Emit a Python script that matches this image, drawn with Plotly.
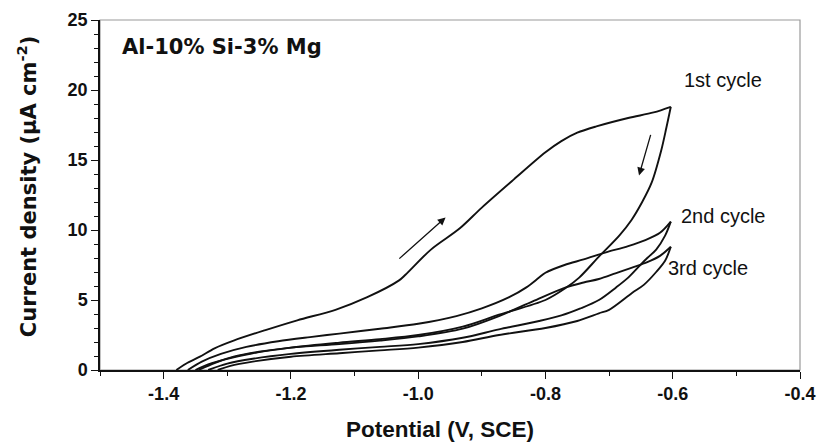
import plotly.graph_objects as go

# ---- data ----
c1_fwd_x = [-1.380, -1.365, -1.343, -1.32, -1.29, -1.24, -1.19, -1.13, -1.08, -1.03, -1.02, -0.98, -0.935, -0.90, -0.85, -0.80, -0.775, -0.75, -0.72, -0.67, -0.63, -0.603]
c1_fwd_y = [0.0, 0.45, 0.95, 1.55, 2.1, 2.85, 3.55, 4.3, 5.2, 6.4, 6.8, 8.6, 10.1, 11.6, 13.6, 15.55, 16.35, 16.95, 17.4, 18.0, 18.4, 18.8]

c1_rev_x = [-0.603, -0.610, -0.618, -0.633, -0.648, -0.665, -0.684, -0.716, -0.747, -0.770, -0.80, -0.873, -0.93, -1.00, -1.06, -1.124, -1.20, -1.26, -1.30, -1.33, -1.350]
c1_rev_y = [18.8, 17.3, 15.7, 13.4, 12.0, 10.7, 9.6, 8.1, 6.6, 5.8, 5.0, 3.95, 3.1, 2.5, 2.2, 1.95, 1.6, 1.2, 0.8, 0.4, 0.0]

c2_fwd_x = [-1.362, -1.34, -1.31, -1.27, -1.22, -1.17, -1.124, -1.06, -1.00, -0.94, -0.90, -0.857, -0.83, -0.81, -0.80, -0.77, -0.74, -0.705, -0.67, -0.642, -0.62, -0.603]
c2_fwd_y = [0.0, 0.6, 1.15, 1.65, 2.05, 2.35, 2.6, 2.95, 3.3, 3.85, 4.4, 5.2, 5.9, 6.6, 6.95, 7.5, 7.9, 8.4, 8.85, 9.3, 9.8, 10.6]

c2_rev_x = [-0.603, -0.612, -0.626, -0.640, -0.653, -0.670, -0.689, -0.716, -0.745, -0.775, -0.81, -0.873, -0.93, -1.00, -1.06, -1.124, -1.20, -1.26, -1.30, -1.33]
c2_rev_y = [10.6, 9.6, 8.6, 8.0, 7.4, 6.6, 5.9, 5.0, 4.4, 3.9, 3.5, 2.9, 2.3, 1.85, 1.65, 1.45, 1.15, 0.8, 0.45, 0.0]

c3_fwd_x = [-1.345, -1.32, -1.29, -1.25, -1.20, -1.124, -1.06, -1.00, -0.93, -0.873, -0.82, -0.768, -0.74, -0.716, -0.69, -0.665, -0.64, -0.62, -0.603]
c3_fwd_y = [0.0, 0.5, 0.95, 1.3, 1.6, 1.85, 2.1, 2.4, 2.95, 3.85, 4.9, 5.9, 6.25, 6.5, 6.9, 7.3, 7.7, 8.15, 8.8]

c3_rev_x = [-0.603, -0.612, -0.626, -0.645, -0.664, -0.700, -0.716, -0.75, -0.80, -0.873, -0.93, -1.00, -1.06, -1.124, -1.20, -1.26, -1.295, -1.315]
c3_rev_y = [8.8, 7.8, 7.0, 6.1, 5.5, 4.3, 4.05, 3.5, 3.0, 2.5, 2.0, 1.6, 1.4, 1.2, 0.95, 0.6, 0.3, 0.0]

x_ticks = [-1.4, -1.2, -1.0, -0.8, -0.6, -0.4]
x_ticklabels = ["-1.4", "-1.2", "-1.0", "-0.8", "-0.6", "-0.4"]
y_ticks = [0, 5, 10, 15, 20, 25]

cycle_labels = ["1st cycle", "2nd cycle", "3rd cycle"]
cycle_label_x = [-0.586, -0.590, -0.610]
cycle_label_y = [20.7, 11.0, 7.3]

FONT = "Liberation Sans, Arial, sans-serif"
WIDE = "DejaVu Sans, Verdana, sans-serif"
INK = "#111111"
LINE = dict(color=INK, width=1.9, shape="spline", smoothing=0.9)

fig = go.Figure()
for xs, ys in [(c1_fwd_x, c1_fwd_y), (c1_rev_x, c1_rev_y),
               (c2_fwd_x, c2_fwd_y), (c2_rev_x, c2_rev_y),
               (c3_fwd_x, c3_fwd_y), (c3_rev_x, c3_rev_y)]:
    fig.add_trace(go.Scatter(x=xs, y=ys, mode="lines", line=LINE,
                             showlegend=False, hoverinfo="skip"))

# gray frame (top / right)
fig.add_shape(type="rect", xref="paper", yref="paper", x0=0, y0=0, x1=1, y1=1,
              line=dict(color="#9a9a9a", width=1.2), layer="below")

for t, xx, yy in zip(cycle_labels, cycle_label_x, cycle_label_y):
    fig.add_annotation(x=xx, y=yy, text=t, showarrow=False, xanchor="left",
                       yanchor="middle", font=dict(family=FONT, size=20, color=INK))

fig.add_annotation(x=-1.469, y=23.1, text="Al-10% Si-3% Mg", showarrow=False,
                   xanchor="left", yanchor="middle",
                   font=dict(family=WIDE, size=21, color=INK, weight="bold"))

# axis titles as annotations (precise placement)
fig.add_annotation(xref="paper", yref="paper", x=0.486, y=-0.170,
                   text="Potential (V, SCE)", showarrow=False,
                   xanchor="center", yanchor="middle",
                   font=dict(family=FONT, size=22.5, color=INK, weight="bold"))
fig.add_annotation(xref="paper", yref="paper", x=-0.104, y=0.523,
                   text="Current density (μA cm<sup>-2</sup>)", showarrow=False,
                   textangle=-90, xanchor="center", yanchor="middle",
                   font=dict(family=WIDE, size=21, color=INK, weight="bold"))

# direction arrows
fig.add_annotation(x=-0.957, y=10.9, ax=-1.032, ay=7.86, xref="x", yref="y",
                   axref="x", ayref="y", text="", showarrow=True,
                   arrowhead=2, arrowsize=1.2, arrowwidth=1.3, arrowcolor=INK)
fig.add_annotation(x=-0.653, y=13.9, ax=-0.634, ay=16.9, xref="x", yref="y",
                   axref="x", ayref="y", text="", showarrow=True,
                   arrowhead=2, arrowsize=1.2, arrowwidth=1.3, arrowcolor=INK)

fig.update_layout(
    width=820, height=442,
    margin=dict(l=100, r=20, t=20, b=72, autoexpand=False),
    plot_bgcolor="white", paper_bgcolor="white",
    font=dict(family=FONT, color=INK),
    hovermode=False,
)
fig.update_xaxes(
    range=[-1.5, -0.4], tickvals=x_ticks, ticktext=x_ticklabels, automargin=False,
    showgrid=False, zeroline=False, showline=True, linecolor=INK, linewidth=1.5,
    ticks="outside", ticklen=7, tickwidth=1.3, tickcolor=INK,
    minor=dict(dtick=0.1, tick0=-1.5, ticks="outside", ticklen=4, tickwidth=1.1, tickcolor=INK),
    tickfont=dict(family=FONT, size=18, weight="bold", color=INK),
)
fig.update_yaxes(
    range=[0, 25], tickvals=y_ticks, automargin=False,
    showgrid=False, zeroline=False, showline=True, linecolor=INK, linewidth=1.5,
    ticks="outside", ticklen=7, tickwidth=1.3, tickcolor=INK,
    minor=dict(dtick=1, tick0=0, ticks="outside", ticklen=4, tickwidth=1.1, tickcolor=INK),
    tickfont=dict(family=FONT, size=18, weight="bold", color=INK),
)

# remove the browser's default 8px body margin so the figure fills the window
fig.write_html("out.html", config={"displayModeBar": False},
               post_script="document.body.style.margin='0px';document.body.style.overflow='hidden';")
